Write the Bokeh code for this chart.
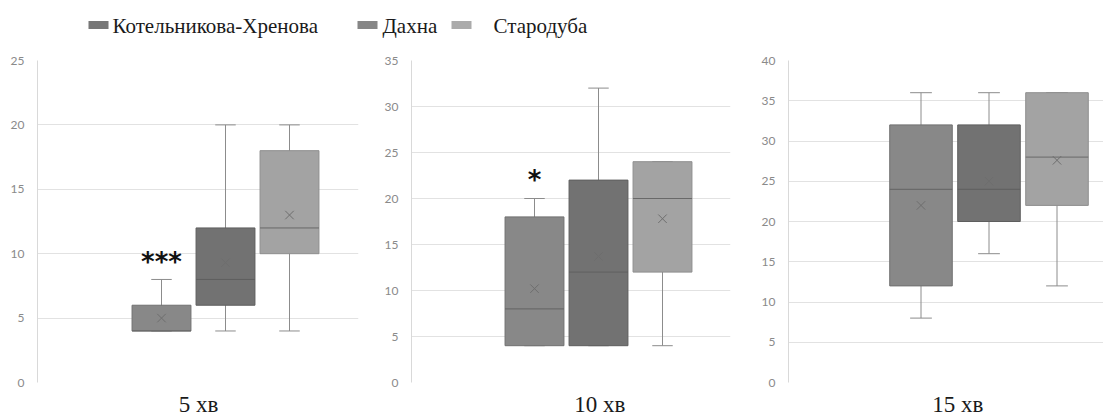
import numpy as np
from bokeh.plotting import figure
from bokeh.layouts import column, row
from bokeh.models import ColumnDataSource, FixedTicker, Range1d
from bokeh.core.properties import value
from bokeh.embed import file_html
from bokeh.resources import INLINE

# ---------------- data ----------------
series = ["Котельникова-Хренова", "Дахна", "Стародуба"]
panel_labels = ["5 хв", "10 хв", "15 хв"]

min_5 = [4, 4, 4]
q1_5 = [4, 6, 10]
med_5 = [4, 8, 12]
q3_5 = [6, 12, 18]
max_5 = [8, 20, 20]
mean_5 = [5.0, 9.3, 13.0]

min_10 = [4, 4, 4]
q1_10 = [4, 4, 12]
med_10 = [8, 12, 20]
q3_10 = [18, 22, 24]
max_10 = [20, 32, 24]
mean_10 = [10.2, 13.7, 17.8]

min_15 = [8, 16, 12]
q1_15 = [12, 20, 22]
med_15 = [24, 24, 28]
q3_15 = [32, 32, 36]
max_15 = [36, 36, 36]
mean_15 = [22.0, 25.0, 27.6]

y_max = [25, 35, 40]
stars = ["***", "*", ""]
star_y = [9.6, 22.3, None]

# ---------------- styles ----------------
box_fill = ["#888888", "#727272", "#a3a3a3"]
box_line = ["#707070", "#5e5e5e", "#8e8e8e"]
legend_fill = ["#777777", "#868686", "#ababab"]
whisker_col = "#8c8c8c"
tick_font = "Lato"
serif = "Liberation Serif"

LEG_H = 44
FRAME_H = 322
TOP = 16
BOTTOM = 34

layout = [
    dict(fw=321, ml=37, mr=22, unit=64.0, first_off=124.0, label_x=1.58),
    dict(fw=319, ml=31, mr=20, unit=64.0, first_off=123.0, label_x=2.02),
    dict(fw=315, ml=38, mr=0, unit=68.0, first_off=132.5, label_x=1.54),
]

data = [
    (min_5, q1_5, med_5, q3_5, max_5, mean_5),
    (min_10, q1_10, med_10, q3_10, max_10, mean_10),
    (min_15, q1_15, med_15, q3_15, max_15, mean_15),
]

BOX_W = 0.92
CAP_HALF = 0.16


def make_panel(i):
    lay = layout[i]
    mn, q1, md, q3, mx, mean = data[i]
    xs = np.arange(1, len(series) + 1, dtype=float)
    x_start = 1.0 - lay["first_off"] / lay["unit"]
    x_end = x_start + lay["fw"] / lay["unit"]
    p = figure(frame_width=lay["fw"], frame_height=FRAME_H,
               min_border_left=lay["ml"], min_border_right=lay["mr"],
               min_border_top=TOP, min_border_bottom=BOTTOM,
               x_range=Range1d(x_start, x_end), y_range=Range1d(0, y_max[i]),
               output_backend="svg", toolbar_location=None)
    p.outline_line_color = None
    p.background_fill_color = "white"
    p.border_fill_color = "white"

    src = ColumnDataSource(dict(
        x=xs, mn=mn, q1=q1, md=md, q3=q3, mx=mx, mean=mean,
        xl=xs - BOX_W / 2, xr=xs + BOX_W / 2,
        cl=xs - CAP_HALF, cr=xs + CAP_HALF,
        fill=box_fill, line=box_line,
    ))
    p.segment(x0="x", y0="mn", x1="x", y1="mx", source=src,
              line_color=whisker_col, line_width=1)
    p.segment(x0="cl", y0="mx", x1="cr", y1="mx", source=src,
              line_color=whisker_col, line_width=1)
    p.segment(x0="cl", y0="mn", x1="cr", y1="mn", source=src,
              line_color=whisker_col, line_width=1)
    p.vbar(x="x", width=BOX_W, bottom="q1", top="q3", source=src,
           fill_color="fill", line_color="line", line_width=1)
    p.segment(x0="xl", y0="md", x1="xr", y1="md", source=src,
              line_color="#5a5a5a", line_width=1, line_alpha=0.8)
    p.scatter(x="x", y="mean", source=src, marker="x", size=12,
              line_color="#6e6e6e", line_width=1)

    if stars[i]:
        p.text(x=[xs[0]], y=[star_y[i]], text=[stars[i]],
               text_font=value("DejaVu Sans"), text_font_style="bold",
               text_font_size="26px", text_color="#111111",
               text_align="center", text_baseline="alphabetic", y_offset=3)

    ticks = list(range(0, y_max[i] + 1, 5))
    yax = p.yaxis[0]
    yax.ticker = FixedTicker(ticks=ticks)
    yax.axis_line_color = "#d9d9d9"
    yax.major_tick_line_color = None
    yax.minor_tick_line_color = None
    yax.major_label_text_font = tick_font
    yax.major_label_text_font_size = "12px"
    yax.major_label_text_color = "#8a8a8a"
    yax.major_label_standoff = 7

    xax = p.xaxis[0]
    xax.ticker = FixedTicker(ticks=[lay["label_x"]])
    xax.major_label_overrides = {lay["label_x"]: panel_labels[i]}
    xax.axis_line_color = None
    xax.major_tick_line_color = None
    xax.minor_tick_line_color = None
    xax.major_label_text_font = serif
    xax.major_label_text_font_size = "23px"
    xax.major_label_text_color = "#1a1a1a"
    xax.major_label_standoff = 3

    p.xgrid.grid_line_color = None
    p.ygrid.grid_line_color = "#e2e2e2"
    p.ygrid.ticker = FixedTicker(ticks=ticks)
    return p


panels = [make_panel(i) for i in range(3)]

# legend strip (screen-pixel coordinate space of the strip)
leg = figure(width=1103, height=LEG_H, x_range=Range1d(0, 1103), y_range=Range1d(0, LEG_H),
             output_backend="svg", toolbar_location=None,
             min_border_left=0, min_border_right=0, min_border_top=0, min_border_bottom=0)
leg.axis.visible = False
leg.grid.visible = False
leg.outline_line_color = None
sw_x = [98, 367, 461]
lab_x = [112, 382, 493]
leg.rect(x=sw_x, y=[LEG_H - 24.5] * 3, width=20, height=8,
         width_units="screen", height_units="screen",
         fill_color=legend_fill, line_color=None)
leg.text(x=lab_x, y=[LEG_H - 25.5] * 3, text=series,
         text_font=value(serif), text_font_size="21px", text_color="#1a1a1a",
         text_align="left", text_baseline="middle")

layout_all = column(leg, row(*panels, spacing=0), spacing=0)

open("out.html", "w").write(file_html(layout_all, INLINE))
